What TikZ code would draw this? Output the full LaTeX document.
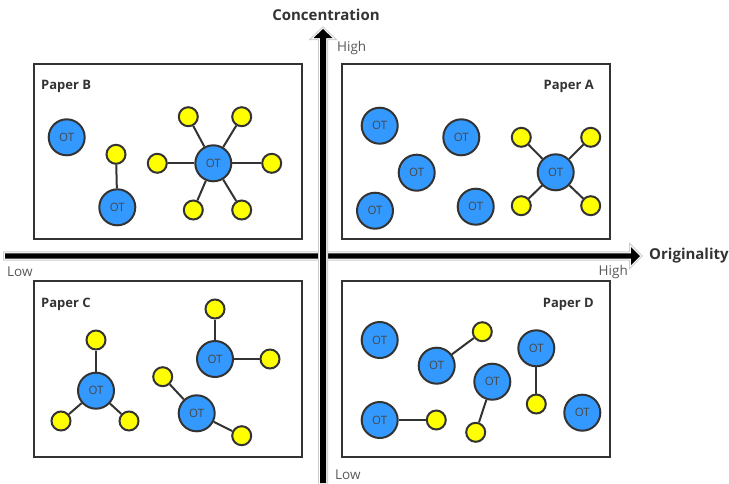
\documentclass[tikz,border=0pt]{standalone}
\usepackage{fontspec}
\setmainfont{Open Sans}
\definecolor{otblue}{HTML}{3399FF}
\definecolor{ylw}{HTML}{FFFF00}
\definecolor{edge}{HTML}{333333}
\definecolor{axlab}{HTML}{595959}
\tikzset{
  ot/.style={circle, draw=edge, line width=2pt, fill=otblue, minimum size=36pt, inner sep=0pt,
     font=\fontsize{11.5}{13}\selectfont, text=edge!90, node contents={OT}},
  yb/.style={circle, draw=edge, line width=2pt, fill=ylw, minimum size=19pt, inner sep=0pt},
  link/.style={draw=edge, line width=2pt},
  paper/.style={draw=edge, line width=2pt},
  ptitle/.style={font=\fontsize{13}{15}\selectfont\bfseries, text=edge, inner sep=0pt},
  axtitle/.style={font=\fontsize{15}{17}\selectfont\bfseries, text=edge, inner sep=0pt},
  axval/.style={font=\fontsize{13.5}{15}\selectfont, text=axlab, inner sep=0pt},
}
\begin{document}
\begin{tikzpicture}[x=1pt,y=-1pt]
\useasboundingbox (0,0) rectangle (729,483);
% ---------- axes ----------
\coordinate (hl) at (5,256);
\coordinate (hb) at (631,256);
\coordinate (ht) at (640,256);
\coordinate (vb) at (323,483);
\coordinate (vh) at (323,38);
\coordinate (vt) at (323,29);
\def\harrow{([yshift=2.6pt]hl) -- ([yshift=2.6pt]hb) -- ([yshift=9pt]hb) -- (ht) -- ([yshift=-9pt]hb) -- ([yshift=-2.6pt]hb) -- ([yshift=-2.6pt]hl) -- cycle}
\def\varrow{([xshift=-3pt]vb) -- ([xshift=-3pt]vh) -- ([xshift=-9.5pt]vh) -- (vt) -- ([xshift=9.5pt]vh) -- ([xshift=3pt]vh) -- ([xshift=3pt]vb) -- cycle}
\draw[gray!40, line width=4pt, line join=miter] \harrow;
\draw[white, line width=2pt, line join=miter] \harrow;
\fill[black] \harrow;
\draw[gray!40, line width=4pt, line join=miter] \varrow;
\draw[white, line width=2pt, line join=miter] \varrow;
\fill[black] \varrow;
\node[axtitle] (conc) at (326,15) {Concentration};
\node[axtitle, anchor=west] (orig) at (649,256) {Originality};
\node[axval, anchor=west] (vhigh) at (337,48) {High};
\node[axval, anchor=west] (vlow) at (335,475) {Low};
\node[axval, anchor=west] (hlow) at (7,272) {Low};
\node[axval, anchor=east] (hhigh) at (628,272) {High};
% ---------- paper boxes ----------
\draw[paper] (34,64) rectangle (302,239);
\draw[paper] (342,64) rectangle (610,239);
\draw[paper] (34,281) rectangle (302,457);
\draw[paper] (342,281) rectangle (610,457);
\node[ptitle, anchor=west] (tb) at (41,86) {Paper B};
\node[ptitle, anchor=east] (ta) at (594,86) {Paper A};
\node[ptitle, anchor=west] (tc) at (41,304) {Paper C};
\node[ptitle, anchor=east] (td) at (594,304) {Paper D};
% ---------- Paper B ----------
\node (b1) at (66.7,137.3) [ot];
\node[yb] (b2y) at (116,154.3) {};
\node (b2) at (117.3,207.3) [ot];
\node (b3) at (213.3,163.3) [ot];
\node[yb] (b3a) at (188.3,116.7) {};
\node[yb] (b3b) at (241.7,116.7) {};
\node[yb] (b3c) at (157.3,163.3) {};
\node[yb] (b3d) at (271.7,163.3) {};
\node[yb] (b3e) at (193.3,210) {};
\node[yb] (b3f) at (241.7,210) {};
\draw[link] (b2) -- (b2y);
\foreach \y in {b3a,b3b,b3c,b3d,b3e,b3f} \draw[link] (b3) -- (\y);
% ---------- Paper A ----------
\node (a1) at (379.7,125.7) [ot];
\node (a2) at (461.3,137.3) [ot];
\node (a3) at (416.7,172.7) [ot];
\node (a4) at (375,210.7) [ot];
\node (a5) at (475.7,206.7) [ot];
\node (a6) at (555.7,172.3) [ot];
\node[yb] (a6a) at (521.3,137.3) {};
\node[yb] (a6b) at (590.7,137.3) {};
\node[yb] (a6c) at (521.3,205.7) {};
\node[yb] (a6d) at (590.7,205.7) {};
\foreach \y in {a6a,a6b,a6c,a6d} \draw[link] (a6) -- (\y);
% ---------- Paper C ----------
\node (c1) at (96,390.7) [ot];
\node[yb] (c1a) at (96,340) {};
\node[yb] (c1b) at (61,421) {};
\node[yb] (c1c) at (129,421) {};
\node (c2) at (215,359) [ot];
\node[yb] (c2a) at (215,309) {};
\node[yb] (c2b) at (270,359) {};
\node (c3) at (196.7,413.3) [ot];
\node[yb] (c3a) at (162.7,376.7) {};
\node[yb] (c3b) at (241.7,435.7) {};
\foreach \y in {c1a,c1b,c1c} \draw[link] (c1) -- (\y);
\foreach \y in {c2a,c2b} \draw[link] (c2) -- (\y);
\foreach \y in {c3a,c3b} \draw[link] (c3) -- (\y);
% ---------- Paper D ----------
\node (d1) at (379.7,340) [ot];
\node (d2) at (436.7,365.7) [ot];
\node[yb] (d2y) at (482.3,331.7) {};
\node (d3) at (492.3,381.7) [ot];
\node[yb] (d3y) at (475.7,432.3) {};
\node (d4) at (536.3,348.3) [ot];
\node[yb] (d4y) at (536.3,404) {};
\node (d5) at (379.7,420) [ot];
\node[yb] (d5y) at (436.3,420) {};
\node (d6) at (582.3,412.7) [ot];
\draw[link] (d2) -- (d2y);
\draw[link] (d3) -- (d3y);
\draw[link] (d4) -- (d4y);
\draw[link] (d5) -- (d5y);
\end{tikzpicture}
\end{document}
